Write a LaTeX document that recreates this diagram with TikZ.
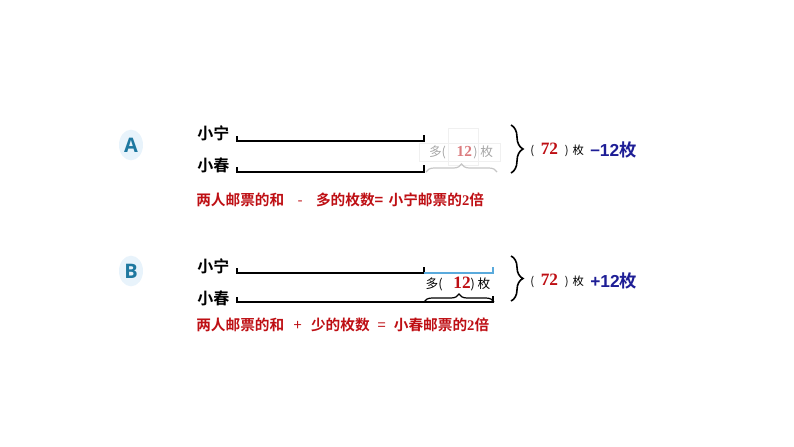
\documentclass[tikz,border=0pt]{standalone}
\usepackage{fontspec}
\newfontfamily\cjk[BoldFont={Noto Sans CJK SC Bold}]{Noto Sans CJK SC}
\newfontfamily\numf{Liberation Serif}
\newfontfamily\latf{Open Sans}
\newfontfamily\arialf{Liberation Sans}
\usetikzlibrary{decorations.pathreplacing,shapes.geometric}
\definecolor{sumred}{RGB}{190,15,20}
\definecolor{navyblue}{RGB}{30,30,150}
\definecolor{letterblue}{RGB}{30,120,160}
\definecolor{letterbg}{RGB}{232,243,251}
\definecolor{moreblue}{RGB}{90,170,220}
\tikzset{
  who/.style={font=\cjk\bfseries\fontsize{12}{12}\selectfont, anchor=east, inner sep=1pt},
  bar/.style={line width=1.4pt},
  rule/.style={font=\cjk\bfseries\fontsize{11}{11}\selectfont, text=sumred, anchor=west, inner sep=0pt},
  letterdot/.style={ellipse, fill=letterbg, minimum width=18pt, minimum height=23pt, inner sep=0pt,
    text=letterblue, font=\latf\bfseries\fontsize{15}{15}\selectfont},
  bigbrace/.style={decorate, decoration={brace, amplitude=9pt}, line width=1.2pt},
  smallbrace/.style={decorate, decoration={brace, amplitude=6pt}, line width=0.9pt},
  extra/.style={font=\cjk\fontsize{9.5}{10}\selectfont, inner sep=0pt},
  total/.style={font=\cjk\fontsize{8.5}{9}\selectfont, anchor=west, inner sep=0pt},
  fix/.style={font=\arialf\bfseries\fontsize{13}{13}\selectfont, text=navyblue, anchor=west, inner sep=0pt}
}
\begin{document}
\begin{tikzpicture}[x=0.75pt, y=-0.75pt]
    \useasboundingbox (0,0) rectangle (794,447);

    % A
    \node[letterdot] (markA) at (131,145) {A};
    \node[who] (ningA) at (231,133) {小宁};
    \node[who] (chunA) at (231,165) {小春};
    \draw[bar] (237,136) -- (237,141) -- (424,141) -- (424,135);
    \draw[bar] (237,167) -- (237,172) -- (424,172) -- (424,165);

    \draw[gray!12] (419,143) rectangle (500,161);
    \draw[gray!12] (448,128) rectangle (478,165);
    \node[extra, text=gray!70] (moreA) at (461,152) {多(\hspace{8pt}{\numf\bfseries\fontsize{11.5}{11}\selectfont\textcolor{sumred!55}{12}}\hspace{1pt})\hspace{2pt}枚};
    \draw[smallbrace, gray!45] (426,172) -- (497,172);

    \draw[bigbrace] (511,125) -- (511,173);
    \node[total] (sumA) at (530,150) {(\hspace{5pt}{\numf\bfseries\fontsize{13}{13}\selectfont\textcolor{sumred}{72}}\hspace{5pt})\hspace{3pt}枚};
    \node[fix] (fixA) at (590,150) {\raisebox{1pt}{–}12{\cjk 枚}};

    \node[rule] (ruleA) at (196,200) {两人邮票的和\hspace{10pt}{\mdseries -}\hspace{10pt}多的枚数=\hspace{4pt}小宁邮票的{\numf 2}倍};

    % B
    \node[letterdot] (markB) at (131,271) {B};
    \node[who] (ningB) at (231,266) {小宁};
    \node[who] (chunB) at (231,298) {小春};
    \draw[bar] (237,268) -- (237,273) -- (424,273) -- (424,267);
    \draw[moreblue, line width=1.1pt] (424,273) -- (493,273) -- (493,267);
    \draw[bar] (237,297) -- (237,302) -- (493,302) -- (493,296);

    \node[extra] (moreB) at (458,284) {多(\hspace{8pt}{\numf\bfseries\fontsize{13}{13}\selectfont\textcolor{sumred}{12}})\hspace{2pt}枚};
    \draw[smallbrace] (424,302) -- (494,302);

    \draw[bigbrace] (511,256) -- (511,301);
    \node[total] (sumB) at (530,281) {(\hspace{5pt}{\numf\bfseries\fontsize{13}{13}\selectfont\textcolor{sumred}{72}}\hspace{5pt})\hspace{3pt}枚};
    \node[fix] (fixB) at (590,281) {+12{\cjk 枚}};

    \node[rule] (ruleB) at (196,325) {两人邮票的和\hspace{7pt}{\mdseries +}\hspace{7pt}少的枚数\hspace{6pt}{\mdseries =}\hspace{6pt}小春邮票的{\numf 2}倍};
\end{tikzpicture}
\end{document}
